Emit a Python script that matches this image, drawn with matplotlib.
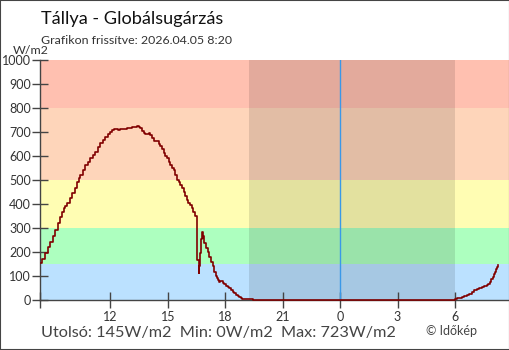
import matplotlib
matplotlib.use("Agg")
import matplotlib.pyplot as plt
from matplotlib.patches import Rectangle

plt.rcParams['font.family'] = ['Lato', 'DejaVu Sans']

# time in hours (from previous midnight, >24 means next day)
times = [8.36, 8.45, 8.6, 8.75, 8.87, 9.0, 9.13, 9.26, 9.39, 9.48, 9.56, 9.65, 9.74, 9.87,
         10.0, 10.13, 10.26, 10.35, 10.43, 10.56, 10.69, 10.82, 10.95, 11.08, 11.21, 11.34,
         11.47, 11.6, 11.74, 11.87, 12.0, 12.08, 12.17, 12.3, 12.4, 12.52, 12.65, 12.87,
         13.0, 13.13, 13.26, 13.39, 13.48, 13.56, 13.65, 13.73, 13.82, 13.91, 14.0, 14.08,
         14.17, 14.26, 14.43, 14.52, 14.6, 14.7, 14.78, 14.87, 14.95, 15.04, 15.12, 15.21,
         15.3, 15.39, 15.48, 15.56, 15.65, 15.74, 15.82, 15.91, 16.0, 16.08, 16.17, 16.26,
         16.34, 16.43, 16.52, 16.55, 16.62, 16.64, 16.68, 16.73, 16.78, 16.82, 16.86, 16.9,
         17.0, 17.08, 17.17, 17.25, 17.34, 17.43, 17.5, 17.55, 17.62, 17.69, 17.75, 17.81,
         17.88, 17.95, 18.03, 18.12, 18.2, 18.3, 18.38, 18.47, 18.56, 18.65, 18.73, 18.82,
         18.9, 18.96, 19.2, 19.44, 29.95, 30.0, 30.09, 30.22, 30.35, 30.48, 30.61, 30.74,
         30.87, 31.0, 31.13, 31.26, 31.39, 31.52, 31.65, 31.74, 31.82, 31.9, 31.96, 32.02,
         32.08, 32.14, 32.2, 32.25]
values = [155, 170, 194, 220, 243, 268, 292, 320, 347, 365, 382, 392, 403, 425,
          444, 468, 493, 508, 521, 540, 562, 577, 590, 604, 618, 636,
          653, 668, 681, 692, 701, 708, 711, 712, 710, 711, 714, 715,
          718, 721, 722, 723, 719, 715, 705, 694, 690, 690, 697, 688,
          674, 664, 664, 652, 642, 628, 611, 600, 590, 576, 562, 552,
          542, 522, 500, 490, 479, 465, 451, 432, 417, 406, 396, 382,
          368, 350, 333, 167, 111, 140, 194, 253, 282, 257, 265, 236,
          218, 201, 180, 160, 140, 118, 100, 90, 82, 76, 80, 79,
          72, 67, 60, 53, 48, 42, 35, 28, 22, 18, 14, 10,
          6, 3, 3, 0, 0, 3, 7, 10, 14, 18, 21, 26,
          32, 40, 46, 49, 53, 57, 62, 68, 76, 86, 97, 107,
          118, 128, 139, 145]

# colour bands (W/m2)
band_edges = [0, 150, 300, 500, 800, 1000]
band_colors = ['#bbe1ff', '#adffbf', '#fffdb3', '#fed5ba', '#ffc0b0']

night_start, night_end = 19.22, 30.0
x_left, x_right = 8.35, 32.82
tick_pos = [12, 15, 18, 21, 24, 27, 30]
tick_lbl = ['12', '15', '18', '21', '0', '3', '6']

fig = plt.figure(figsize=(5.1, 3.5), dpi=100)
ax = fig.add_axes([40.5 / 510, 50 / 350, 468.5 / 510, 240 / 350])

for i, c in enumerate(band_colors):
    ax.axhspan(band_edges[i], band_edges[i + 1], color=c, lw=0, zorder=0)
ax.axvspan(night_start, night_end, color='black', alpha=0.11, lw=0, zorder=1)
ax.axvline(24, color='#3a98e8', lw=1, zorder=2)

ax.plot(times, values, drawstyle='steps-post', color='#800000', lw=1.2, zorder=3,
        clip_on=False)

ax.set_xlim(x_left, x_right)
ax.set_ylim(0, 1000)
ax.set_yticks(range(0, 1001, 100))
ax.set_xticks([x_left] + tick_pos)
ax.set_xticklabels([''] + tick_lbl)
ax.tick_params(direction='inout', length=12, width=1, color='#444444',
               labelsize=9, labelcolor='#333333')
ax.tick_params(axis='y', pad=1)
ax.tick_params(axis='x', pad=2)
for s in ['top', 'right']:
    ax.spines[s].set_visible(False)
for s in ['left', 'bottom']:
    ax.spines[s].set_color('#444444')
    ax.spines[s].set_linewidth(1)

fig.text(41 / 510, 1 - 19 / 350, 'Tállya - Globálsugárzás', fontsize=13.1,
         color='#111111', va='center', ha='left')
fig.text(41 / 510, 1 - 40 / 350, 'Grafikon frissítve: 2026.04.05 8:20', fontsize=8.9,
         color='#333333', va='center', ha='left')
fig.text(13 / 510, 1 - 51 / 350, 'W/m2', fontsize=8.9, color='#333333',
         va='center', ha='left')
fig.text(41 / 510, 1 - 333 / 350, 'Utolsó: 145W/m2  Min: 0W/m2  Max: 723W/m2',
         fontsize=11.7, color='#444444', va='center', ha='left')
fig.text(426 / 510, 1 - 331 / 350, '© Időkép', fontsize=9, color='#444444',
         va='center', ha='left')

fig.patches.append(Rectangle((0, 0), 1, 1, transform=fig.transFigure, fill=False,
                             edgecolor='#444444', lw=1.5))

fig.savefig('out.png', dpi=100)
